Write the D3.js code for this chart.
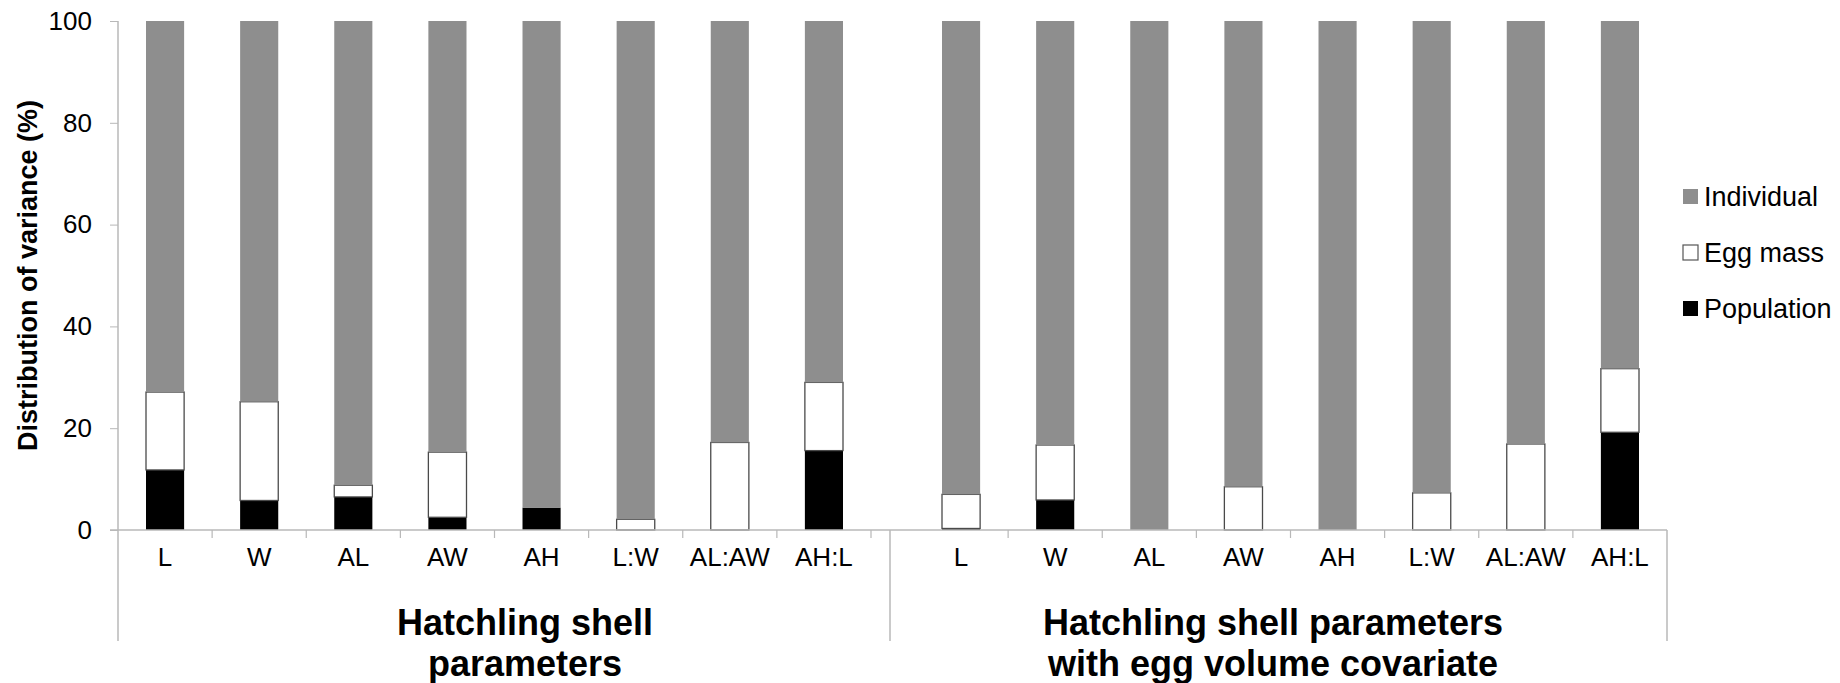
<!DOCTYPE html>
<html>
<head>
<meta charset="utf-8">
<script src="https://cdn.jsdelivr.net/npm/d3@7"></script>
<style>
  body { margin: 0; background: #fff; }
  text { font-family: "Liberation Sans", Arial, sans-serif; fill: #000; }
</style>
</head>
<body>
<script>
var w = 1840;
var h = 683;

// data (percent of variance)
var categories = ["L", "W", "AL", "AW", "AH", "L:W", "AL:AW", "AH:L"];
var groups = ["Hatchling shell parameters", "Hatchling shell parameters with egg volume covariate"];
var groupLines = [["Hatchling shell", "parameters"], ["Hatchling shell parameters", "with egg volume covariate"]];
var keys = ["Population", "Egg mass", "Individual"];

var popA = [11.8, 5.8, 6.5, 2.5, 4.4, 0, 0, 15.6];
var eggA = [15.3, 19.4, 2.3, 12.8, 0, 2.1, 17.2, 13.4];
var popB = [0.3, 5.9, 0, 0, 0, 0, 0, 19.2];
var eggB = [6.7, 10.8, 0, 8.5, 0, 7.3, 16.9, 12.5];
var yTicks = [0, 20, 40, 60, 80, 100];

var colors = { "Individual": "#8e8e8e", "Egg mass": "#ffffff", "Population": "#000000" };
var legendOrder = ["Individual", "Egg mass", "Population"];

function rows(pop, egg) {
  return categories.map(function(c, i) {
    return { cat: c, "Population": pop[i], "Egg mass": egg[i], "Individual": 100 - pop[i] - egg[i] };
  });
}
var dataSets = [rows(popA, eggA), rows(popB, eggB)];

var svg = d3.select("body").append("svg")
  .attr("width", w)
  .attr("height", h);

var y = d3.scaleLinear().domain([0, 100]).range([530, 21]);

var xs = [
  d3.scaleBand().domain(categories).range([118, 871]).paddingInner(0.595).paddingOuter(0.2975),
  d3.scaleBand().domain(categories).range([914, 1667]).paddingInner(0.595).paddingOuter(0.2975)
];
var sepX = 890;
var axisColor = "#b8b8b8";
var bottomY = 641;

var stack = d3.stack().keys(keys);

// bars
dataSets.forEach(function(data, gi) {
  var x = xs[gi];
  var series = stack(data);
  svg.append("g").selectAll("g")
    .data(series)
    .enter().append("g")
      .attr("fill", function(d) { return colors[d.key]; })
      .attr("stroke", function(d) { return d.key === "Egg mass" ? "#4a4a4a" : "none"; })
      .attr("stroke-width", 1.3)
    .selectAll("rect")
    .data(function(d) { return d.filter(function(p) { return p[1] - p[0] > 0; }); })
    .enter().append("rect")
      .attr("x", function(d) { return x(d.data.cat); })
      .attr("width", x.bandwidth())
      .attr("y", function(d) { return y(d[1]); })
      .attr("height", function(d) { return y(d[0]) - y(d[1]); });
});

// y axis
var yAxis = svg.append("g")
  .attr("transform", "translate(118,0)")
  .call(d3.axisLeft(y).tickValues(yTicks).tickSize(8).tickPadding(18));
yAxis.select(".domain").remove();
yAxis.selectAll("line").attr("stroke", axisColor);
yAxis.selectAll("text").style("font-size", "26px").style("font-family", "Liberation Sans, Arial, sans-serif").attr("fill", "#000");

svg.append("line")
  .attr("x1", 118).attr("x2", 118)
  .attr("y1", y(100)).attr("y2", bottomY)
  .attr("stroke", axisColor).attr("stroke-width", 1.5);

// baseline
svg.append("line")
  .attr("x1", 110).attr("x2", xs[1].range()[1])
  .attr("y1", y(0)).attr("y2", y(0))
  .attr("stroke", axisColor).attr("stroke-width", 1.5);

// separators
[sepX, xs[1].range()[1]].forEach(function(sx) {
  svg.append("line")
    .attr("x1", sx).attr("x2", sx)
    .attr("y1", y(0)).attr("y2", bottomY)
    .attr("stroke", axisColor).attr("stroke-width", 1.5);
});

// category ticks and labels
xs.forEach(function(x, gi) {
  var step = x.step();
  var start = x.range()[0];
  var bounds = d3.range(1, categories.length + (gi === 0 ? 1 : 0)).map(function(i) { return start + i * step; });
  svg.append("g").selectAll("line")
    .data(bounds)
    .enter().append("line")
      .attr("x1", function(d) { return d; }).attr("x2", function(d) { return d; })
      .attr("y1", y(0)).attr("y2", y(0) + 8)
      .attr("stroke", axisColor).attr("stroke-width", 1.2);

  var ax = svg.append("g")
    .attr("transform", "translate(0," + y(0) + ")")
    .call(d3.axisBottom(x).tickSize(0).tickPadding(18));
  ax.select(".domain").remove();
  ax.selectAll("text").style("font-size", "26px").style("font-family", "Liberation Sans, Arial, sans-serif").attr("fill", "#000");
});

// group labels
var groupCx = [525, 1273];
groupLines.forEach(function(lines, gi) {
  var t = svg.append("text")
    .attr("text-anchor", "middle")
    .style("font-size", "36px")
    .style("font-weight", "bold");
  lines.forEach(function(l, li) {
    t.append("tspan")
      .attr("x", groupCx[gi])
      .attr("y", 635 + li * 41)
      .text(l);
  });
});

// y title
svg.append("text")
  .attr("transform", "translate(37," + ((y(0) + y(100)) / 2) + ") rotate(-90)")
  .attr("text-anchor", "middle")
  .style("font-size", "27px")
  .style("font-weight", "bold")
  .text("Distribution of variance (%)");

// legend
var legend = svg.append("g").selectAll("g")
  .data(legendOrder)
  .enter().append("g")
    .attr("transform", function(d, i) { return "translate(1683," + (197 + i * 56) + ")"; });
legend.append("rect")
  .attr("x", 0).attr("y", -8)
  .attr("width", 15).attr("height", 15)
  .attr("fill", function(d) { return colors[d]; })
  .attr("stroke", function(d) { return d === "Egg mass" ? "#555" : "none"; })
  .attr("stroke-width", 1.2);
legend.append("text")
  .attr("x", 21)
  .attr("dy", "0.35em")
  .style("font-size", "27px")
  .text(function(d) { return d; });
</script>
</body>
</html>
